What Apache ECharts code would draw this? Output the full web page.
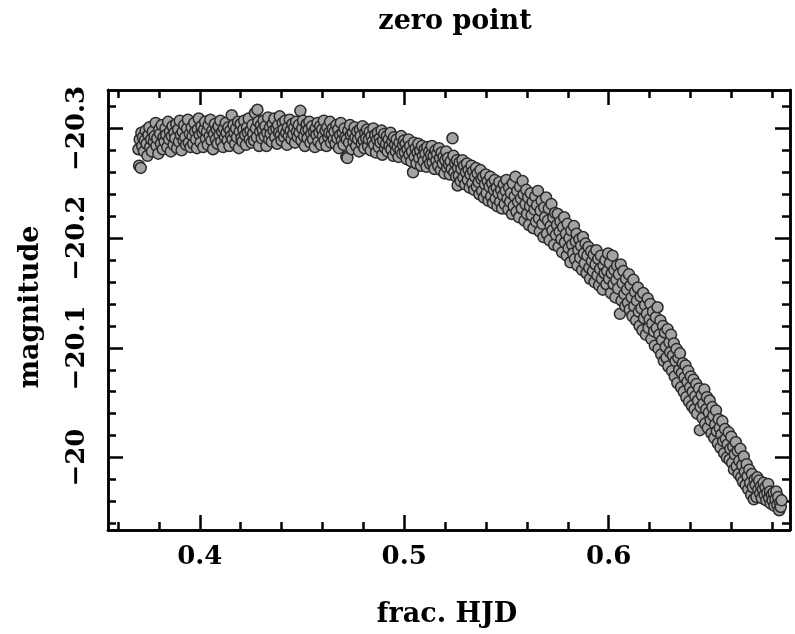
<!DOCTYPE html>
<html><head><meta charset="utf-8">
<script src="https://cdn.jsdelivr.net/npm/echarts@6/dist/echarts.min.js"></script>
<style>html,body{margin:0;padding:0;background:#fff;}#c{width:795px;height:634px;}</style>
</head><body><div id="c"></div>
<script>
const fracHJD = [
0.3700,0.3703,0.3706,0.3711,0.3714,0.3718,0.3722,0.3727,0.3731,0.3735,
0.3740,0.3744,0.3749,0.3753,0.3757,0.3762,0.3766,0.3770,0.3775,0.3779,
0.3784,0.3788,0.3792,0.3797,0.3801,0.3806,0.3810,0.3814,0.3819,0.3823,
0.3828,0.3832,0.3836,0.3841,0.3845,0.3850,0.3854,0.3858,0.3863,0.3867,
0.3872,0.3876,0.3880,0.3885,0.3889,0.3894,0.3898,0.3902,0.3907,0.3911,
0.3916,0.3920,0.3924,0.3929,0.3933,0.3938,0.3942,0.3946,0.3951,0.3955,
0.3960,0.3964,0.3968,0.3973,0.3977,0.3982,0.3986,0.3990,0.3995,0.3999,
0.4004,0.4008,0.4013,0.4017,0.4021,0.4026,0.4030,0.4035,0.4039,0.4043,
0.4048,0.4052,0.4057,0.4061,0.4065,0.4070,0.4074,0.4079,0.4083,0.4087,
0.4092,0.4096,0.4101,0.4105,0.4109,0.4114,0.4118,0.4123,0.4127,0.4131,
0.4136,0.4140,0.4145,0.4149,0.4153,0.4156,0.4160,0.4165,0.4169,0.4173,
0.4178,0.4182,0.4187,0.4191,0.4195,0.4200,0.4204,0.4209,0.4213,0.4217,
0.4222,0.4226,0.4231,0.4235,0.4239,0.4244,0.4248,0.4253,0.4257,0.4261,
0.4266,0.4270,0.4275,0.4279,0.4282,0.4286,0.4290,0.4295,0.4299,0.4303,
0.4308,0.4312,0.4317,0.4321,0.4326,0.4330,0.4334,0.4339,0.4343,0.4347,
0.4352,0.4356,0.4361,0.4365,0.4369,0.4374,0.4378,0.4383,0.4387,0.4391,
0.4396,0.4400,0.4405,0.4409,0.4413,0.4418,0.4422,0.4427,0.4431,0.4435,
0.4440,0.4444,0.4449,0.4453,0.4457,0.4462,0.4466,0.4471,0.4475,0.4479,
0.4484,0.4488,0.4492,0.4497,0.4501,0.4505,0.4510,0.4514,0.4519,0.4523,
0.4527,0.4532,0.4536,0.4541,0.4545,0.4549,0.4554,0.4558,0.4563,0.4567,
0.4571,0.4576,0.4580,0.4585,0.4589,0.4593,0.4598,0.4602,0.4607,0.4611,
0.4615,0.4620,0.4624,0.4629,0.4633,0.4637,0.4642,0.4646,0.4651,0.4655,
0.4659,0.4664,0.4668,0.4673,0.4677,0.4681,0.4686,0.4690,0.4695,0.4699,
0.4703,0.4708,0.4712,0.4717,0.4719,0.4722,0.4726,0.4730,0.4735,0.4739,
0.4743,0.4748,0.4752,0.4757,0.4761,0.4765,0.4770,0.4774,0.4779,0.4783,
0.4787,0.4792,0.4796,0.4801,0.4805,0.4809,0.4814,0.4818,0.4823,0.4827,
0.4831,0.4836,0.4840,0.4845,0.4849,0.4853,0.4858,0.4862,0.4867,0.4871,
0.4875,0.4880,0.4884,0.4889,0.4893,0.4897,0.4902,0.4906,0.4911,0.4915,
0.4919,0.4924,0.4928,0.4933,0.4937,0.4941,0.4946,0.4950,0.4955,0.4959,
0.4963,0.4968,0.4972,0.4977,0.4981,0.4985,0.4990,0.4994,0.4999,0.5003,
0.5007,0.5012,0.5016,0.5021,0.5025,0.5029,0.5034,0.5038,0.5043,0.5047,
0.5051,0.5056,0.5060,0.5065,0.5069,0.5073,0.5078,0.5082,0.5087,0.5091,
0.5095,0.5100,0.5104,0.5109,0.5113,0.5117,0.5122,0.5126,0.5131,0.5135,
0.5139,0.5144,0.5148,0.5153,0.5157,0.5161,0.5166,0.5170,0.5175,0.5179,
0.5183,0.5188,0.5192,0.5197,0.5201,0.5205,0.5210,0.5214,0.5219,0.5223,
0.5227,0.5232,0.5236,0.5241,0.5245,0.5249,0.5254,0.5258,0.5261,0.5263,
0.5267,0.5271,0.5276,0.5280,0.5285,0.5289,0.5293,0.5298,0.5302,0.5307,
0.5311,0.5315,0.5320,0.5324,0.5329,0.5333,0.5337,0.5342,0.5346,0.5351,
0.5355,0.5359,0.5364,0.5368,0.5373,0.5377,0.5381,0.5386,0.5390,0.5395,
0.5399,0.5403,0.5408,0.5412,0.5417,0.5421,0.5425,0.5430,0.5434,0.5439,
0.5443,0.5447,0.5452,0.5456,0.5461,0.5465,0.5469,0.5474,0.5478,0.5483,
0.5487,0.5491,0.5496,0.5500,0.5505,0.5509,0.5513,0.5518,0.5522,0.5527,
0.5531,0.5535,0.5540,0.5544,0.5549,0.5553,0.5557,0.5562,0.5566,0.5571,
0.5575,0.5579,0.5584,0.5588,0.5593,0.5597,0.5601,0.5606,0.5610,0.5615,
0.5619,0.5623,0.5628,0.5632,0.5637,0.5641,0.5645,0.5650,0.5654,0.5659,
0.5663,0.5667,0.5672,0.5676,0.5681,0.5685,0.5689,0.5694,0.5698,0.5703,
0.5707,0.5711,0.5716,0.5720,0.5725,0.5729,0.5733,0.5738,0.5742,0.5747,
0.5751,0.5755,0.5760,0.5764,0.5769,0.5773,0.5777,0.5782,0.5786,0.5791,
0.5795,0.5799,0.5804,0.5808,0.5813,0.5817,0.5821,0.5826,0.5830,0.5835,
0.5839,0.5843,0.5848,0.5852,0.5857,0.5861,0.5865,0.5870,0.5874,0.5879,
0.5883,0.5887,0.5892,0.5896,0.5901,0.5905,0.5909,0.5914,0.5918,0.5923,
0.5927,0.5931,0.5936,0.5940,0.5945,0.5949,0.5953,0.5958,0.5962,0.5967,
0.5971,0.5975,0.5980,0.5984,0.5989,0.5993,0.5997,
0.6002,0.6006,0.6011,0.6015,0.6019,0.6024,0.6028,0.6033,0.6037,0.6041,
0.6046,0.6050,0.6055,0.6059,0.6063,0.6068,0.6072,0.6077,0.6081,0.6085,
0.6090,0.6094,0.6099,0.6103,0.6107,0.6112,0.6116,0.6121,0.6125,0.6129,
0.6134,0.6138,0.6143,0.6147,0.6151,0.6156,0.6160,0.6165,0.6169,0.6173,
0.6178,0.6182,0.6187,0.6191,0.6195,0.6200,
0.6204,0.6209,0.6213,0.6217,0.6222,0.6226,0.6231,0.6235,0.6239,0.6244,
0.6248,0.6253,0.6257,0.6261,0.6266,0.6270,0.6275,0.6279,0.6283,0.6288,
0.6292,0.6297,0.6301,0.6305,0.6310,0.6314,0.6319,0.6323,0.6327,0.6332,
0.6336,0.6341,0.6345,0.6349,0.6354,0.6358,0.6363,0.6367,0.6371,0.6376,
0.6380,0.6385,0.6389,0.6393,0.6398,0.6402,0.6407,0.6411,0.6415,0.6420,
0.6424,0.6429,0.6433,0.6437,0.6442,0.6446,0.6450,
0.6455,0.6459,0.6463,0.6468,0.6472,0.6477,0.6481,0.6485,0.6490,0.6494,
0.6499,0.6503,0.6507,0.6512,0.6516,0.6521,0.6525,0.6529,0.6534,0.6538,
0.6543,0.6547,0.6551,0.6556,0.6560,0.6565,0.6569,0.6573,0.6578,0.6582,
0.6587,0.6591,0.6595,0.6600,0.6604,0.6609,0.6613,0.6617,0.6622,0.6626,
0.6631,0.6635,0.6639,0.6644,0.6648,0.6653,0.6657,0.6661,0.6666,0.6670,
0.6675,0.6679,0.6683,0.6688,0.6692,0.6697,0.6701,0.6705,0.6710,0.6714,
0.6719,0.6723,0.6727,0.6732,0.6736,0.6741,0.6745,0.6749,0.6754,0.6758,
0.6763,0.6767,0.6771,0.6776,0.6780,0.6785,0.6789,0.6793,0.6798,0.6802,
0.6807,0.6811,0.6816,0.6820,0.6825,0.6829,0.6834,0.6838,0.6842,0.6846
];
const magnitude = [
-20.281,-20.266,-20.290,-20.264,-20.296,-20.284,-20.292,-20.279,-20.289,-20.298,
-20.286,-20.275,-20.294,-20.301,-20.283,-20.290,-20.279,-20.297,-20.288,-20.293,
-20.305,-20.284,-20.291,-20.277,-20.299,-20.295,-20.286,-20.303,-20.281,-20.292,
-20.288,-20.300,-20.294,-20.283,-20.306,-20.290,-20.297,-20.279,-20.293,-20.302,
-20.285,-20.296,-20.291,-20.304,-20.282,-20.299,-20.288,-20.307,-20.294,-20.280,
-20.297,-20.289,-20.303,-20.292,-20.285,-20.300,-20.308,-20.287,-20.295,-20.283,
-20.301,-20.293,-20.286,-20.305,-20.297,-20.290,-20.282,-20.299,-20.309,-20.294,
-20.287,-20.302,-20.296,-20.283,-20.299,-20.306,-20.291,-20.297,-20.285,-20.303,
-20.293,-20.308,-20.289,-20.298,-20.281,-20.295,-20.304,-20.290,-20.299,-20.286,
-20.302,-20.294,-20.307,-20.288,-20.297,-20.283,-20.300,-20.292,-20.305,-20.296,
-20.289,-20.301,-20.284,-20.298,-20.293,-20.312,-20.290,-20.303,-20.296,-20.286,
-20.300,-20.292,-20.306,-20.282,-20.297,-20.304,-20.291,-20.288,-20.299,-20.307,
-20.294,-20.285,-20.301,-20.296,-20.309,-20.290,-20.298,-20.287,-20.303,-20.295,
-20.289,-20.314,-20.300,-20.292,-20.317,-20.306,-20.284,-20.297,-20.303,-20.291,
-20.299,-20.307,-20.293,-20.302,-20.284,-20.296,-20.310,-20.290,-20.301,-20.295,
-20.288,-20.304,-20.298,-20.309,-20.292,-20.300,-20.286,-20.303,-20.296,-20.311,
-20.294,-20.289,-20.305,-20.299,-20.292,-20.307,-20.296,-20.285,-20.301,-20.293,
-20.308,-20.298,-20.290,-20.304,-20.295,-20.301,-20.287,-20.306,-20.297,-20.292,
-20.303,-20.296,-20.316,-20.289,-20.300,-20.307,-20.293,-20.284,-20.298,-20.304,
-20.291,-20.299,-20.306,-20.287,-20.295,-20.302,-20.290,-20.297,-20.283,-20.300,
-20.294,-20.305,-20.288,-20.296,-20.302,-20.285,-20.299,-20.293,-20.307,-20.289,
-20.298,-20.284,-20.301,-20.292,-20.296,-20.306,-20.287,-20.295,-20.300,-20.290,
-20.297,-20.286,-20.303,-20.291,-20.299,-20.282,-20.294,-20.305,-20.289,-20.296,
-20.285,-20.300,-20.292,-20.274,-20.290,-20.273,-20.298,-20.287,-20.303,-20.294,
-20.281,-20.296,-20.288,-20.301,-20.292,-20.284,-20.297,-20.290,-20.279,-20.299,
-20.293,-20.286,-20.302,-20.289,-20.282,-20.296,-20.291,-20.299,-20.284,-20.290,
-20.297,-20.280,-20.293,-20.288,-20.300,-20.285,-20.294,-20.278,-20.290,-20.296,
-20.283,-20.291,-20.287,-20.298,-20.276,-20.289,-20.295,-20.282,-20.286,-20.293,
-20.279,-20.290,-20.284,-20.296,-20.281,-20.288,-20.275,-20.292,-20.285,-20.279,
-20.290,-20.283,-20.274,-20.287,-20.280,-20.293,-20.277,-20.285,-20.289,-20.278,
-20.286,-20.272,-20.281,-20.290,-20.276,-20.284,-20.270,-20.279,-20.260,-20.287,
-20.274,-20.282,-20.268,-20.278,-20.286,-20.273,-20.280,-20.266,-20.284,-20.275,
-20.270,-20.281,-20.277,-20.265,-20.283,-20.272,-20.279,-20.268,-20.276,-20.284,
-20.269,-20.275,-20.263,-20.280,-20.271,-20.277,-20.266,-20.282,-20.273,-20.262,
-20.278,-20.268,-20.274,-20.259,-20.271,-20.279,-20.264,-20.273,-20.267,-20.258,
-20.270,-20.263,-20.291,-20.275,-20.260,-20.268,-20.256,-20.271,-20.248,-20.264,
-20.257,-20.269,-20.252,-20.263,-20.271,-20.255,-20.266,-20.249,-20.260,-20.268,
-20.253,-20.262,-20.246,-20.258,-20.266,-20.250,-20.261,-20.244,-20.256,-20.264,
-20.247,-20.259,-20.251,-20.240,-20.262,-20.254,-20.243,-20.256,-20.237,-20.249,
-20.258,-20.241,-20.252,-20.234,-20.247,-20.256,-20.238,-20.250,-20.232,-20.244,
-20.253,-20.236,-20.246,-20.229,-20.241,-20.251,-20.233,-20.244,-20.227,-20.239,
-20.249,-20.231,-20.243,-20.253,-20.236,-20.226,-20.246,-20.233,-20.241,-20.222,
-20.250,-20.229,-20.238,-20.256,-20.224,-20.243,-20.233,-20.219,-20.247,-20.236,
-20.227,-20.252,-20.240,-20.216,-20.231,-20.244,-20.222,-20.237,-20.212,-20.229,
-20.241,-20.221,-20.233,-20.209,-20.226,-20.238,-20.215,-20.230,-20.243,-20.218,
-20.206,-20.225,-20.234,-20.213,-20.201,-20.228,-20.219,-20.237,-20.204,-20.216,
-20.227,-20.198,-20.211,-20.231,-20.207,-20.219,-20.194,-20.223,-20.203,-20.212,
-20.222,-20.192,-20.206,-20.215,-20.199,-20.187,-20.210,-20.219,-20.196,-20.204,
-20.184,-20.213,-20.191,-20.200,-20.178,-20.207,-20.194,-20.186,-20.211,-20.181,
-20.197,-20.204,-20.175,-20.189,-20.199,-20.182,-20.193,-20.171,-20.201,-20.186,
-20.177,-20.195,-20.168,-20.184,-20.192,-20.173,-20.163,-20.188,-20.179,-20.170,
-20.185,-20.160,-20.176,-20.189,-20.166,-20.181,-20.157,-20.172,-20.184,-20.163,
-20.153,-20.175,-20.168,-20.180,-20.158,-20.170,-20.186,
-20.163,-20.177,-20.150,-20.168,-20.184,-20.158,-20.171,-20.146,-20.162,-20.175,
-20.154,-20.167,-20.131,-20.176,-20.143,-20.159,-20.170,-20.149,-20.138,-20.163,
-20.153,-20.141,-20.167,-20.135,-20.157,-20.146,-20.129,-20.162,-20.138,-20.151,
-20.125,-20.143,-20.155,-20.133,-20.120,-20.147,-20.136,-20.116,-20.150,-20.127,
-20.139,-20.112,-20.131,-20.145,-20.118,-20.126,
-20.140,-20.108,-20.122,-20.133,-20.115,-20.102,-20.128,-20.118,-20.137,-20.099,
-20.112,-20.125,-20.094,-20.107,-20.120,-20.088,-20.114,-20.101,-20.091,-20.117,
-20.083,-20.105,-20.096,-20.112,-20.079,-20.093,-20.104,-20.074,-20.088,-20.099,
-20.068,-20.091,-20.080,-20.095,-20.064,-20.077,-20.086,-20.060,-20.073,-20.084,
-20.055,-20.069,-20.079,-20.051,-20.064,-20.074,-20.047,-20.060,-20.071,-20.044,
-20.056,-20.067,-20.040,-20.052,-20.063,-20.025,-20.046,
-20.057,-20.036,-20.049,-20.062,-20.031,-20.044,-20.055,-20.027,-20.041,-20.052,
-20.034,-20.022,-20.046,-20.038,-20.018,-20.030,-20.043,-20.024,-20.013,-20.035,
-20.027,-20.009,-20.021,-20.033,-20.015,-20.004,-20.026,-20.017,-20.000,-20.012,
-20.023,-19.998,-20.008,-20.019,-19.995,-20.010,-19.989,-20.003,-20.014,-19.992,
-20.006,-19.985,-19.997,-20.008,-19.982,-19.993,-19.978,-20.001,-19.987,-19.975,
-19.994,-19.983,-19.971,-19.989,-19.977,-19.966,-19.985,-19.973,-19.962,-19.980,
-19.975,-19.964,-19.982,-19.971,-19.979,-19.967,-19.974,-19.963,-19.971,-19.977,
-19.966,-19.973,-19.961,-19.968,-19.976,-19.963,-19.969,-19.958,-19.966,-19.961,
-19.968,-19.956,-19.962,-19.969,-19.957,-19.964,-19.952,-19.959,-19.955,-19.961
];
const xMajorTicks = [0.4, 0.5, 0.6];
const xMinorTicks = [0.36, 0.38, 0.42, 0.44, 0.46, 0.48, 0.52, 0.54, 0.56, 0.58, 0.62, 0.64, 0.66, 0.68];
const yMajorTicks = [-20.3, -20.2, -20.1, -20.0];
const yMinorTicks = [-20.32, -20.28, -20.26, -20.24, -20.22, -20.18, -20.16, -20.14, -20.12, -20.08, -20.06, -20.04, -20.02, -19.98, -19.96, -19.94];
const X_MIN = 0.3551, X_MAX = 0.6887;
const Y_MIN = -20.335, Y_MAX = -19.934;
const titleText = 'zero point', xTitle = 'frac. HJD', yTitle = 'magnitude';

const FONT = 'DejaVu Serif';
const fmt = v => (v < 0 ? '\u2212' : '') + String(Math.abs(+v.toFixed(3)));
const lineStyle = { color: '#000', width: 2.5 };

function xAx(pos, ticks, len, showLab) {
  return {
    type: 'value', position: pos, min: X_MIN, max: X_MAX, scale: true,
    axisLine: { show: true, onZero: false, lineStyle },
    axisTick: { show: true, inside: true, length: len, customValues: ticks, lineStyle },
    axisLabel: { show: showLab, customValues: ticks, margin: 14, formatter: fmt,
      fontFamily: FONT, fontWeight: 'bold', fontSize: 26, color: '#000' },
    splitLine: { show: false }
  };
}
function yAx(pos, ticks, len, showLab) {
  return {
    type: 'value', position: pos, min: Y_MIN, max: Y_MAX, inverse: true, scale: true,
    axisLine: { show: true, onZero: false, lineStyle },
    axisTick: { show: true, inside: true, length: len, customValues: ticks, lineStyle },
    axisLabel: { show: showLab, customValues: ticks, rotate: 90, margin: 18, formatter: fmt,
      fontFamily: FONT, fontWeight: 'bold', fontSize: 26, color: '#000' },
    splitLine: { show: false }
  };
}

const n = Math.min(fracHJD.length, magnitude.length);
const points = [];
for (let i = 0; i < n; i++) points.push([fracHJD[i], magnitude[i]]);

const chart = echarts.init(document.getElementById('c'), null, { renderer: 'canvas' });
chart.setOption({
  animation: false,
  backgroundColor: '#fff',
  grid: { left: 108, right: 5, top: 90, bottom: 104, containLabel: false, outerBoundsMode: 'none' },
  xAxis: [
    xAx('bottom', xMajorTicks, 15, true),
    xAx('bottom', xMinorTicks, 8, false),
    xAx('top', xMajorTicks, 15, false),
    xAx('top', xMinorTicks, 8, false)
  ],
  yAxis: [
    yAx('left', yMajorTicks, 15, true),
    yAx('left', yMinorTicks, 8, false),
    yAx('right', yMajorTicks, 15, false),
    yAx('right', yMinorTicks, 8, false)
  ],
  graphic: [
    { type: 'text', x: 455, y: 22, style: { text: titleText, fontFamily: FONT, fontWeight: 'bold', fontSize: 27, fill: '#000', align: 'center', verticalAlign: 'middle' } },
    { type: 'text', x: 447, y: 615, style: { text: xTitle, fontFamily: FONT, fontWeight: 'bold', fontSize: 27, fill: '#000', align: 'center', verticalAlign: 'middle' } },
    { type: 'text', x: 31, y: 307, rotation: Math.PI / 2, style: { text: yTitle, fontFamily: FONT, fontWeight: 'bold', fontSize: 27, fill: '#000', align: 'center', verticalAlign: 'middle' } }
  ],
  series: [{
    type: 'scatter', xAxisIndex: 0, yAxisIndex: 0,
    data: points,
    symbol: 'circle', symbolSize: 11,
    itemStyle: { color: '#a3a3a3', borderColor: '#2a2a2a', borderWidth: 1.5, opacity: 1 },
    emphasis: { disabled: true }
  }]
});
</script></body></html>
